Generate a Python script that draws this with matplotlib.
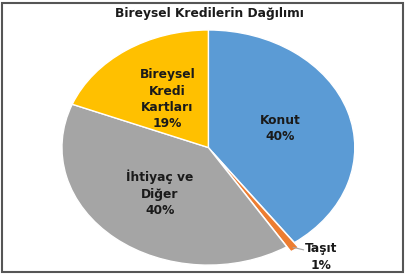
import matplotlib
matplotlib.use("Agg")
import matplotlib.pyplot as plt
from matplotlib.patches import Rectangle

# Veriler
kategoriler = ["Konut", "Taşıt", "İhtiyaç ve\nDiğer", "Bireysel\nKredi\nKartları"]
oranlar = [40, 1, 40, 19]
renkler = ["#5B9BD5", "#ED7D31", "#A5A5A5", "#FFC000"]
baslik = "Bireysel Kredilerin Dağılımı"

plt.rcParams["font.family"] = ["DejaVu Sans"]

fig = plt.figure(figsize=(4.05, 2.75), dpi=100)
fig.patch.set_facecolor("white")

# Pasta grafiği (Excel gibi yatayda gerilmiş)
ax = fig.add_axes([0.153, 0.036, 0.723, 0.855])
wedges, _ = ax.pie(oranlar, colors=renkler, startangle=90, counterclock=False,
                   explode=[0, 0.05, 0, 0],
                   wedgeprops=dict(edgecolor="white", linewidth=1.0))
ax.set_aspect("auto")
ax.set_xlim(-1, 1)
ax.set_ylim(-1, 1)
ax.axis("off")

yazi = dict(fontsize=8.8, fontweight="bold", color="#1a1a1a", linespacing=1.33)

etiket_konum = [(0.49, 0.16), None, (-0.33, -0.39), (-0.28, 0.41)]
for i, poz in enumerate(etiket_konum):
    if poz is None:
        continue
    ax.text(poz[0], poz[1], f"{kategoriler[i]}\n{oranlar[i]}%", ha="center", va="center", **yazi)

# Taşıt etiketi dışarıda, kılavuz çizgisiyle
ax.plot([0.58, 0.65], [-0.85, -0.87], color="#A5A5A5", lw=0.8, clip_on=False)
ax.text(0.77, -0.93, f"{kategoriler[1]}\n{oranlar[1]}%", ha="center", va="center", **yazi)

fig.text(0.516, 0.952, baslik, ha="center", va="center", fontsize=8.8,
         fontweight="bold", color="#1a1a1a")

# Çerçeve
fig.patches.append(Rectangle((0.005, 0.012), 0.99, 0.978, transform=fig.transFigure,
                             fill=False, edgecolor="#555555", linewidth=1.5))

fig.savefig("out.png", dpi=100)
